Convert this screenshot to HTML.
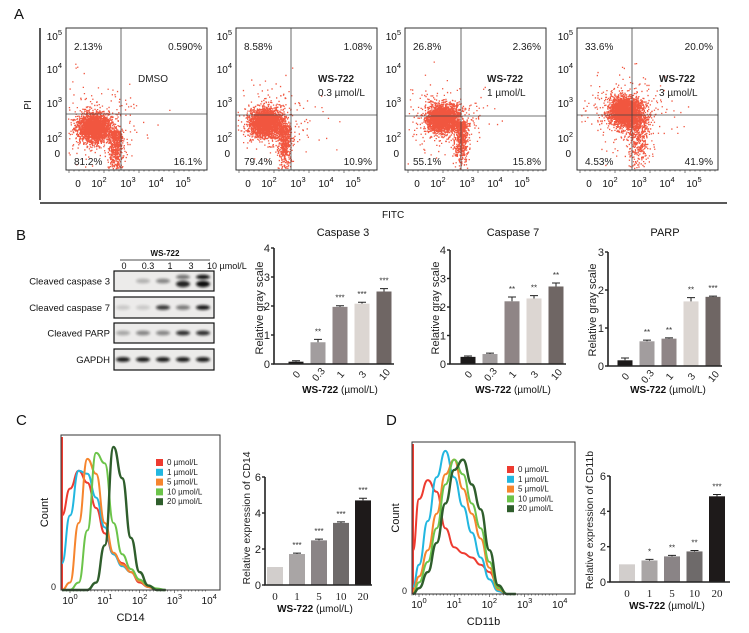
<!DOCTYPE html>
<html><head><meta charset="utf-8">
<style>
html,body{margin:0;padding:0;background:#fff}
svg{display:block;font-family:"Liberation Sans",Arial,sans-serif}
</style></head>
<body>
<svg id="fig" xmlns="http://www.w3.org/2000/svg" width="749" height="633" viewBox="0 0 749 633">
<defs>
<filter id="blur1" x="-50%" y="-100%" width="200%" height="300%"><feGaussianBlur stdDeviation="1.2"/></filter>
</defs>
<rect width="749" height="633" fill="#fff"/>
<g id="panelA"></g>
<g id="panelB"></g>
<g id="panelC"></g>
<g id="panelD"></g>
</svg>
<script>
// ---------- data ----------
const flowLabelsTL = ["2.13%","8.58%","26.8%","33.6%"];
const flowLabelsTR = ["0.590%","1.08%","2.36%","20.0%"];
const flowLabelsBL = ["81.2%","79.4%","55.1%","4.53%"];
const flowLabelsBR = ["16.1%","10.9%","15.8%","41.9%"];
const flowTreat = ["DMSO","WS-722","WS-722","WS-722"];
const flowConc = ["","0.3 µmol/L","1 µmol/L","3 µmol/L"];

const bCategories = ["0","0.3","1","3","10"];
const casp3Values = [0.08,0.75,1.97,2.08,2.5];
const casp3Err = [0.03,0.1,0.04,0.05,0.1];
const casp3Stars = ["","**","***","***","***"];
const casp7Values = [0.25,0.35,2.2,2.3,2.72];
const casp7Err = [0.03,0.03,0.15,0.1,0.12];
const casp7Stars = ["","","**","**","**"];
const parpValues = [0.15,0.65,0.72,1.7,1.82];
const parpErr = [0.06,0.03,0.02,0.1,0.02];
const parpStars = ["","**","**","**","***"];
const bTicks4 = [0,1,2,3,4];
const bTicks3 = [0,1,2,3];

const cdCategories = ["0","1","5","10","20"];
const cd14Values = [1.0,1.72,2.48,3.45,4.7];
const cd14Err = [0,0.05,0.07,0.06,0.12];
const cd14Stars = ["","***","***","***","***"];
const cd11bValues = [1.0,1.22,1.45,1.73,4.85];
const cd11bErr = [0,0.06,0.06,0.05,0.1];
const cd11bStars = ["","*","**","**","***"];
const cdTicks = [0,2,4,6];

const histLog = [-0.25,0,0.25,0.5,0.75,1,1.25,1.5,1.75,2,2.25,2.5,2.75];
const histLegend = ["0 µmol/L","1 µmol/L","5 µmol/L","10 µmol/L","20 µmol/L"];
const cd14_0 = [50,68,80,72,55,38,24,18,12,5,2,0,0];
const cd14_1 = [18,50,80,78,62,42,24,16,12,6,2,0,0];
const cd14_5 = [0,5,45,88,78,45,25,17,12,6,2,0,0];
const cd14_10 = [0,0,5,40,92,85,45,24,14,7,3,1,0];
const cd14_20 = [0,0,0,0,5,30,96,75,35,12,3,0,0];
const cd11b_0 = [30,65,78,70,45,32,28,25,20,15,5,0,0];
const cd11b_1 = [5,20,50,80,98,80,60,42,25,10,2,0,0];
const cd11b_5 = [2,12,30,55,82,92,72,55,38,18,3,0,0];
const cd11b_10 = [0,8,22,45,75,92,82,62,45,22,4,0,0];
const cd11b_20 = [0,4,15,35,62,85,92,75,58,30,6,0,0];
const histLogTicks = [0,1,2,3,4];

// ---------- helpers ----------
const NS="http://www.w3.org/2000/svg";
function mk(parent,tag,attrs,text){const e=document.createElementNS(NS,tag);for(const k in attrs)e.setAttribute(k,attrs[k]);if(text!==undefined)e.textContent=text;parent.appendChild(e);return e;}
function pow10(parent,x,y,exp,size,anchor){
  const t=mk(parent,"text",{x:x,y:y,"font-size":size,fill:"#111","text-anchor":anchor||"middle"});
  
  
  if(exp===null){t.textContent="0";return t;}
  const a=document.createElementNS(NS,"tspan");a.textContent="10";t.appendChild(a);
  const b=document.createElementNS(NS,"tspan");b.setAttribute("dy","-5");b.setAttribute("font-size",size*0.75);b.textContent=exp;t.appendChild(b);
  return t;
}
let seed=7;function rnd(){seed=(seed*16807)%2147483647;return seed/2147483647;}
function gauss(){let u=rnd()||1e-6,v=rnd();return Math.sqrt(-2*Math.log(u))*Math.cos(2*Math.PI*v);}

// ---------- Panel A ----------
const A=document.getElementById("panelA");
const lA=mk(A,"text",{x:14,y:19,"font-size":15,fill:"#111"},"A");

const brL=mk(A,"line",{x1:40,y1:28,x2:40,y2:200,stroke:"#222","stroke-width":1.5});

const brB=mk(A,"line",{x1:40,y1:203,x2:727,y2:203,stroke:"#222","stroke-width":1.5});

const pi=mk(A,"text",{x:0,y:0,"font-size":10,fill:"#111","text-anchor":"middle",transform:"translate(31,105) rotate(-90)"},"PI");

const fitc=mk(A,"text",{x:382,y:218,"font-size":10,fill:"#111"},"FITC");


const plotX=[66,236,405,577];
const quadV=[55,55,56,55];
const quadH=[114,115,116,115];
const clusters=[[28,127,49],[30,122,48],[37,118,56],[48,111,60]];
for(let p=0;p<4;p++){
  const x0=plotX[p],y0=28,w=141,h=142;
  const g=mk(A,"g",{});
  
  let d="";
  const [cx,cy,tx]=clusters[p];
  for(let i=0;i<3200;i++){
    let x,y;
    if(i<2300){x=x0+cx+gauss()*8;y=cy+gauss()*7;}
    else if(i<2900){x=x0+tx+gauss()*(p==3?6:3.5);y=cy+3+Math.abs(gauss())*(p==3?28:22);}
    else {x=x0+cx+gauss()*22;y=cy+gauss()*18;}
    if(x<x0+1||x>x0+w-2||y<y0+1||y>y0+h-2)continue;
    d+=`M${x.toFixed(1)} ${y.toFixed(1)}h1.3v1.3h-1.3z`;
  }
  const dots=mk(g,"path",{d:d,fill:"#f0442a",opacity:0.9});
  
  const fr=mk(g,"rect",{x:x0,y:y0,width:w,height:h,fill:"none",stroke:"#333","stroke-width":1});
  
  const qv=mk(g,"line",{x1:x0+quadV[p],y1:y0,x2:x0+quadV[p],y2:y0+h,stroke:"#444","stroke-width":0.8});
  
  const qh=mk(g,"line",{x1:x0,y1:quadH[p],x2:x0+w,y2:quadH[p],stroke:"#444","stroke-width":0.8});
  
  let tk="";for(let i=0;i<28;i++){tk+=`M${x0+3+i*5} ${y0+h}v${i%7==0?3:1.5}`;}
  const tkp=mk(g,"path",{d:tk,stroke:"#333","stroke-width":0.6});
  
  const yl=[[5,40],[4,73],[3,107],[2,142]];
  yl.forEach(([e,y])=>pow10(g,x0-4,y,String(e),10,"end"));
  pow10(g,x0-6,y0+129,null,10,"end");
  pow10(g,x0+12,y0+159,null,10,"middle");
  [[2,33],[3,62],[4,90],[5,117]].forEach(([e,dx])=>pow10(g,x0+dx,y0+159,String(e),10,"middle"));
  const q1=mk(g,"text",{x:x0+8,y:y0+22,"font-size":10,fill:"#222"},flowLabelsTL[p]);
  const q2=mk(g,"text",{x:x0+w-5,y:y0+22,"font-size":10,fill:"#222","text-anchor":"end"},flowLabelsTR[p]);
  const q3=mk(g,"text",{x:x0+8,y:y0+137,"font-size":10,fill:"#222"},flowLabelsBL[p]);
  const q4=mk(g,"text",{x:x0+w-5,y:y0+137,"font-size":10,fill:"#222","text-anchor":"end"},flowLabelsBR[p]);
  if(p==0){const t=mk(g,"text",{x:x0+72,y:y0+54,"font-size":10,fill:"#222"},flowTreat[p]);}
  else{
    const t=mk(g,"text",{x:x0+82,y:y0+54,"font-size":10,fill:"#222","font-weight":"bold"},flowTreat[p]);
    const c=mk(g,"text",{x:x0+82,y:y0+68,"font-size":10,fill:"#222"},flowConc[p]);
  }
}

// ---------- Panel B ----------
const B=document.getElementById("panelB");
const lB=mk(B,"text",{x:16,y:240,"font-size":15,fill:"#111"},"B");

const wsH=mk(B,"text",{x:165,y:256,"font-size":8,"font-weight":"bold","text-anchor":"middle",fill:"#111"},"WS-722");

const wsL=mk(B,"line",{x1:120,y1:260,x2:210,y2:260,stroke:"#111","stroke-width":0.8});

const laneX=[123,143,163,183,203];
[["0",124],["0.3",148],["1",170],["3",191],["10 µmol/L",207]].forEach(([t,x],i)=>{
  const e=mk(B,"text",{x:x,y:269,"font-size":9,fill:"#111","text-anchor":i==4?"start":"middle"},t);
  
});
const blots=[["Cleaved caspase 3",271,20,[0,0.25,0.45,[0.55,0.9],[1,1]]],
             ["Cleaved caspase 7",297,21,[0.15,0.15,0.8,0.5,0.95]],
             ["Cleaved PARP",323,20,[0.3,0.45,0.45,0.85,0.85]],
             ["GAPDH",349,21,[0.95,0.95,0.95,0.95,0.95]]];
blots.forEach(([name,y,h,ints])=>{
  const g=mk(B,"g",{});
  
  mk(g,"rect",{x:114,y:y,width:100,height:h,fill:"#ecebea",stroke:"#111","stroke-width":1.2});
  const lbl=mk(g,"text",{x:110,y:y+h/2+3.5,"font-size":9.5,"text-anchor":"end",fill:"#111"},name);
  
  ints.forEach((v,i)=>{
    const arr=Array.isArray(v)?v:[v];
    arr.forEach((vv,j)=>{
      if(vv<=0)return;
      const yy=arr.length==2?(j==0?y+6:y+13):y+h/2;
      const band=mk(g,"ellipse",{cx:laneX[i],cy:yy,rx:7,ry:arr.length==2?2.2+j:2.4,fill:"#111",opacity:vv,filter:"url(#blur1)"});
      
    });
  });
});

const bColors=["#1c1a1a","#a29d9e","#8f8586","#dcd6d2","#6f6664"];
function barChart(parent,cfg){
  const g=mk(parent,"g",{});
  
  const ys=v=>cfg.y0-(v/cfg.ymax)*(cfg.y0-cfg.ytop);
  cfg.values.forEach((v,i)=>{
    const cx=cfg.centers0+i*cfg.step;
    const r=mk(g,"rect",{x:cx-cfg.bw/2,y:ys(v),width:cfg.bw,height:cfg.y0-ys(v),fill:cfg.colors[i]});
    
    const e=cfg.err[i];
    if(e>0){
      const eb=mk(g,"path",{d:`M${cx} ${ys(v)}V${ys(v+e)}M${cx-4} ${ys(v+e)}H${cx+4}`,stroke:"#222","stroke-width":1});
      
    }
    if(cfg.stars[i]){
      const s=mk(g,"text",{x:cx,y:ys(v+e)-5,"font-size":8,"text-anchor":"middle",fill:"#333"},cfg.stars[i]);
      
    }
    const lx=cx, ly=cfg.y0+(cfg.rot?14:15);
    const tl=mk(g,"text",{x:lx,y:ly,"font-size":cfg.rot?10:11,"text-anchor":"middle",fill:"#222","font-family":cfg.rot?"Liberation Sans,sans-serif":"Liberation Serif,serif",transform:cfg.rot?`rotate(-50 ${lx} ${ly-4})`:""},cfg.cats[i]);
    
  });
  const ax=mk(g,"path",{d:`M${cfg.ax} ${cfg.ytop}V${cfg.y0}H${cfg.xend}`,stroke:"#222","stroke-width":1.6,fill:"none"});
  
  cfg.ticks.forEach(t=>{
    const tk=mk(g,"line",{x1:cfg.ax-3,y1:ys(t),x2:cfg.ax,y2:ys(t),stroke:"#222","stroke-width":1.4});
    
    const tt=mk(g,"text",{x:cfg.ax-4,y:ys(t)+4,"font-size":11,"text-anchor":"end",fill:"#222"},String(t));
    
  });
  const yt=mk(g,"text",{x:0,y:0,"font-size":cfg.ylsize,"text-anchor":"middle",fill:"#222",transform:`translate(${cfg.ylx},${cfg.yly}) rotate(-90)`},cfg.ylabel);
  
  const xt=mk(g,"text",{x:cfg.xlx,y:cfg.xly,"font-size":10,"text-anchor":"middle",fill:"#111"});
  
  const b=document.createElementNS(NS,"tspan");b.setAttribute("font-weight","bold");b.textContent="WS-722";xt.appendChild(b);
  const r2=document.createElementNS(NS,"tspan");r2.textContent=" (µmol/L)";xt.appendChild(r2);
  if(cfg.title){const t=mk(g,"text",{x:cfg.titlex,y:236,"font-size":11,"text-anchor":"middle",fill:"#111"},cfg.title);}
}
barChart(B,{name:"caspase3-bar-chart",title:"Caspase 3",titlex:343,values:casp3Values,err:casp3Err,stars:casp3Stars,cats:bCategories,colors:bColors,
  ax:274,y0:364,ytop:248,ymax:4,ticks:bTicks4,centers0:296,step:22,bw:15,xend:394,rot:true,ylabel:"Relative gray scale",ylx:263,yly:308,ylsize:11,xlx:340,xly:393});
barChart(B,{name:"caspase7-bar-chart",title:"Caspase 7",titlex:513,values:casp7Values,err:casp7Err,stars:casp7Stars,cats:bCategories,colors:bColors,
  ax:450,y0:364,ytop:250,ymax:4,ticks:bTicks4,centers0:468,step:22,bw:15,xend:566,rot:true,ylabel:"Relative gray scale",ylx:439,yly:308,ylsize:11,xlx:513,xly:393});
barChart(B,{name:"parp-bar-chart",title:"PARP",titlex:665,values:parpValues,err:parpErr,stars:parpStars,cats:bCategories,colors:bColors,
  ax:608,y0:366,ytop:252,ymax:3,ticks:bTicks3,centers0:625,step:22,bw:15,xend:722,rot:true,ylabel:"Relative gray scale",ylx:596,yly:310,ylsize:11,xlx:668,xly:393});

// ---------- Histograms ----------
const histColors=["#ee3b30","#22b7e0","#f6852e","#6cc44a","#2f5e2c"];
function histogram(parent,cfg){
  const g=mk(parent,"g",{});
  
  const xs=l=>cfg.x10+(l)*cfg.dec;
  const ys=v=>cfg.bottom-(v/100)*(cfg.bottom-cfg.top-6);
  mk(g,"rect",{x:cfg.left,y:cfg.top,width:cfg.right-cfg.left,height:cfg.bottom-cfg.top,fill:"#fff"});
  const spike=mk(g,"line",{x1:cfg.left+1,y1:cfg.top+2,x2:cfg.left+1,y2:cfg.bottom,stroke:histColors[0],"stroke-width":2});
  
  cfg.series.forEach((s,si)=>{
    let pts=[];
    s.forEach((v,i)=>{
      let x=Math.max(cfg.left+1,xs(histLog[i]));
      pts.push([x,ys(v)]);
    });
    let d=`M${pts[0][0]} ${pts[0][1]}`;
    for(let i=1;i<pts.length;i++){
      const [x0,y0]=pts[i-1],[x1,y1]=pts[i];
      const mx=(x0+x1)/2;
      d+=`C${mx} ${y0} ${mx} ${y1} ${x1} ${y1}`;
    }
    const c=mk(g,"path",{d:d,fill:"none",stroke:histColors[si],"stroke-width":si==4?2.4:2,"stroke-linejoin":"round"});
    
  });
  const fr=mk(g,"path",{d:`M${cfg.left} ${cfg.top}H${cfg.right}V${cfg.bottom}H${cfg.left}Z`,fill:"none",stroke:"#333","stroke-width":1});
  
  let tk="";for(let l=-0.2;l<=4.0;l+=0.1){tk+=`M${xs(l).toFixed(1)} ${cfg.bottom}v${Math.abs(l-Math.round(l))<0.01?3:1.5}`;}
  const tkp=mk(g,"path",{d:tk,stroke:"#333","stroke-width":0.6});
  
  histLogTicks.forEach(e=>pow10(g,xs(e),cfg.bottom+14,String(e),10,"middle"));
  const z=mk(g,"text",{x:cfg.left-5,y:cfg.bottom,"font-size":9,"text-anchor":"end",fill:"#222"},"0");
  
  const ct=mk(g,"text",{x:0,y:0,"font-size":11,"text-anchor":"middle",fill:"#111",transform:`translate(${cfg.left-13},${(cfg.top+cfg.bottom)/2}) rotate(-90)`},"Count");
  
  const xt=mk(g,"text",{x:(cfg.left+cfg.right)/2-10,y:cfg.bottom+31,"font-size":11,"text-anchor":"middle",fill:"#111"},cfg.xlabel);
  
  histLegend.forEach((t,i)=>{
    const yy=cfg.legY+i*9.8;
    const sq=mk(g,"rect",{x:cfg.legX,y:yy-6,width:7,height:7,fill:histColors[i]});
    
    const tx=mk(g,"text",{x:cfg.legX+11,y:yy,"font-size":8,fill:"#222"},t);
    
  });
}

// ---------- Panel C ----------
const C=document.getElementById("panelC");
const lC=mk(C,"text",{x:16,y:425,"font-size":15,fill:"#111"},"C");

histogram(C,{name:"cd14-histogram",left:61,right:220,top:435,bottom:590,x10:70,dec:34.8,series:[cd14_0,cd14_1,cd14_5,cd14_10,cd14_20],xlabel:"CD14",legX:156,legY:465});
barChart(C,{name:"cd14-bar-chart",values:cd14Values,err:cd14Err,stars:cd14Stars,cats:cdCategories,colors:["#d2cecc","#a9a5a5","#8a8486","#6e6a6a","#1e1a1a"],
  ax:265,y0:585,ytop:477,ymax:6,ticks:cdTicks,centers0:275,step:22,bw:16,xend:372,rot:false,ylabel:"Relative expression of CD14",ylx:250,yly:518,ylsize:10.5,xlx:315,xly:612});

// ---------- Panel D ----------
const D=document.getElementById("panelD");
const lD=mk(D,"text",{x:386,y:425,"font-size":15,fill:"#111"},"D");

histogram(D,{name:"cd11b-histogram",left:412,right:575,top:442,bottom:594,x10:419,dec:35.2,series:[cd11b_0,cd11b_1,cd11b_5,cd11b_10,cd11b_20],xlabel:"CD11b",legX:507,legY:472});
barChart(D,{name:"cd11b-bar-chart",values:cd11bValues,err:cd11bErr,stars:cd11bStars,cats:cdCategories,colors:["#d2cecc","#a9a5a5","#8a8486","#6e6a6a","#1e1a1a"],
  ax:610,y0:582,ytop:476,ymax:6,ticks:cdTicks,centers0:627,step:22.5,bw:16,xend:730,rot:false,ylabel:"Relative expression of CD11b",ylx:593,yly:520,ylsize:10.5,xlx:667,xly:609});
</script>
</body></html>
